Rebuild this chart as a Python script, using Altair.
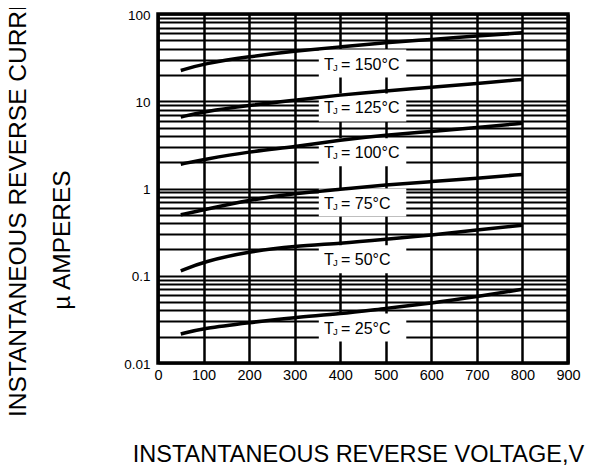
import altair as alt
import pandas as pd

# ---- data ----
volts = [50, 100, 200, 300, 400, 500, 600, 700, 800]
temps = ["150", "125", "100", "75", "50", "25"]
i150 = [22.5, 27, 32.5, 37.5, 42, 47, 51, 56, 61]
i125 = [6.6, 7.6, 9.0, 10.3, 11.8, 13.2, 14.4, 16, 17.8]
i100 = [1.9, 2.15, 2.65, 3.0, 3.6, 4.1, 4.5, 5.0, 5.6]
i75 = [0.5, 0.57, 0.74, 0.88, 0.98, 1.1, 1.2, 1.31, 1.45]
i50 = [0.114, 0.145, 0.19, 0.218, 0.235, 0.262, 0.293, 0.334, 0.38]
i25 = [0.0215, 0.025, 0.029, 0.0334, 0.0365, 0.0424, 0.0483, 0.0575, 0.07]
series = [i150, i125, i100, i75, i50, i25]

label_current = [27, 8.5, 2.6, 0.69, 0.155, 0.0255]
label_volt = 450

x_ticks = [0, 100, 200, 300, 400, 500, 600, 700, 800, 900]
y_labels = [0.01, 0.1, 1, 10, 100]
y_grid = [round(m * d, 4) for d in [0.01, 0.1, 1, 10] for m in range(1, 10)] + [100]

rows = []
for t, vals in zip(temps, series):
    for v, i in zip(volts, vals):
        rows.append({"T": t, "V": v, "I": i})
df = pd.DataFrame(rows)

lab = pd.DataFrame({
    "T": temps,
    "V": [label_volt] * len(temps),
    "I": label_current,
    "rest": ["= " + t + "\u00b0C" for t in temps],
})

FONT = "Liberation Sans"

xs = alt.Scale(domain=[0, 900], nice=False, zero=False)
ys = alt.Scale(type="log", domain=[0.01, 100], nice=False)

x_axis = alt.Axis(
    values=x_ticks, format="d", grid=True, gridColor="black", gridWidth=2.5,
    gridOpacity=1, ticks=False, domain=False, labelFont=FONT, labelFontSize=14.5,
    labelColor="black", labelPadding=5, labelFlush=False,
    title="INSTANTANEOUS REVERSE VOLTAGE,V", titleFont=FONT, titleFontSize=23.5,
    titleFontWeight="normal", titleColor="black", titleX=200, titleY=98.5,
    titleBaseline="alphabetic", titleAlign="center",
)
label_list = ",".join(str(v) for v in y_labels)
y_axis = alt.Axis(
    values=y_grid, grid=True, gridColor="black", gridWidth=2, gridOpacity=1,
    ticks=False, domain=False, labelFont=FONT, labelFontSize=13.5, labelColor="black",
    labelPadding=8, labelFlush=False, labelOffset=1,
    labelExpr="indexof([" + label_list + "], datum.value) >= 0 ? format(datum.value, '~g') : ''",
    title="INSTANTANEOUS REVERSE CURRENT", titleFont=FONT, titleFontSize=24.5,
    titleFontWeight="normal", titleColor="black", titleAngle=270, titleX=-133,
    titleY=175, titleBaseline="alphabetic", titleAlign="center",
)

boxes = alt.Chart(lab).transform_calculate(
    x1="datum.V - 97", x2="datum.V + 95",
    y1="datum.I / 1.447", y2="datum.I * 1.447",
).mark_rect(color="white").encode(
    x=alt.X("x1:Q", scale=xs, axis=x_axis),
    x2="x2:Q",
    y=alt.Y("y1:Q", scale=ys, axis=y_axis),
    y2="y2:Q",
)

curves = alt.Chart(df).mark_line(
    color="black", strokeWidth=3.5, interpolate="basis"
).encode(
    x=alt.X("V:Q", scale=xs),
    y=alt.Y("I:Q", scale=ys),
    detail="T:N",
)

t_main = alt.Chart(lab).mark_text(
    text="T", align="left", baseline="alphabetic", dx=-39, dy=6,
    font=FONT, fontSize=16, color="black",
).encode(x=alt.X("V:Q", scale=xs), y=alt.Y("I:Q", scale=ys))

t_sub = alt.Chart(lab).mark_text(
    text="J", align="left", baseline="alphabetic", dx=-30, dy=7,
    font=FONT, fontSize=9.5, color="black",
).encode(x=alt.X("V:Q", scale=xs), y=alt.Y("I:Q", scale=ys))

t_rest = alt.Chart(lab).mark_text(
    align="left", baseline="alphabetic", dx=-22, dy=6,
    font=FONT, fontSize=16, color="black",
).encode(x=alt.X("V:Q", scale=xs), y=alt.Y("I:Q", scale=ys), text="rest:N")

unit = alt.Chart(pd.DataFrame({"u": ["\u00b5 AMPERES"]})).mark_text(
    angle=270, align="center", baseline="alphabetic", font=FONT, fontSize=24.5,
    color="black",
).encode(text="u:N", x=alt.value(-88), y=alt.value(226))

chart = alt.layer(boxes, curves, t_main, t_sub, t_rest, unit).properties(
    width=410, height=349,
    autosize=alt.AutoSizeParams(type="none"),
    padding={"left": 150, "top": 6, "right": 22, "bottom": 106},
    background="white",
).configure_view(stroke="black", strokeWidth=3.5, fill="white")

chart.save("out.html", embed_options={"renderer": "svg", "actions": False})
